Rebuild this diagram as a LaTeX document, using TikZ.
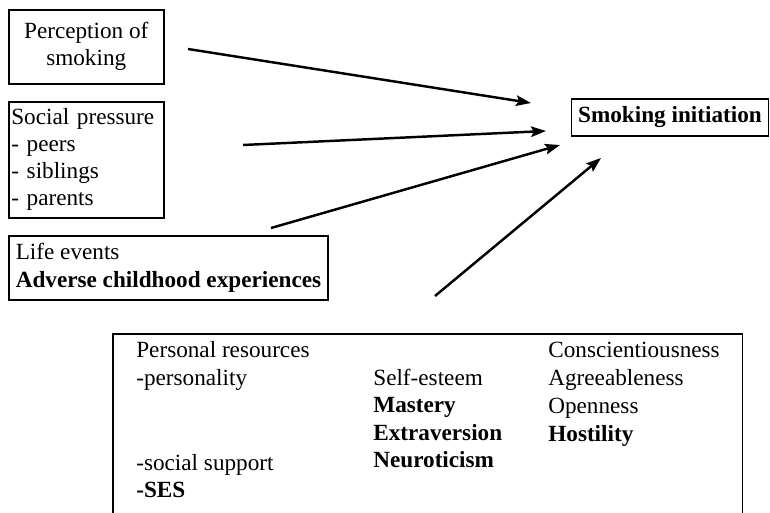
\documentclass[tikz,border=0pt]{standalone}
\usepackage{fontspec}
\setmainfont{Liberation Serif}
\usetikzlibrary{positioning,arrows.meta}

\begin{document}
\begin{tikzpicture}[x=0.02cm, y=-0.02cm,
    box/.style={draw, line width=0.9pt, inner sep=0pt, font=\fontsize{13.2}{15.4}\selectfont},
    item/.style={anchor=base west, inner sep=0pt, font=\fontsize{13.2}{15.4}\selectfont},
    link/.style={line width=1.4pt, -{Stealth[length=8.5pt, width=6pt, inset=1.5pt]}},
]
\useasboundingbox (0,0) rectangle (770,513);
\clip (0,0) rectangle (770,513);

% factors on the left
\node[box, anchor=north west, minimum width=3.1cm, minimum height=1.48cm, align=center] (perception) at (8,9) {Perception of\\smoking};
\node[box, anchor=north west, minimum width=3.1cm, minimum height=2.32cm, inner xsep=0.05cm, text width=3.0cm, align=left] (pressure) at (8,101) {Social pressure\\- peers\\- siblings\\- parents};
\node[box, anchor=north west, minimum height=1.28cm, inner xsep=0.14cm, align=left] (events) at (8,235) {Life events\\\textbf{Adverse childhood experiences}};

% outcome
\node[box, minimum width=3.94cm, minimum height=0.74cm] (smoking) at (670,117.5) {\textbf{Smoking initiation}};

% personal resources, bottom edge runs off the page
\node[box, anchor=north west, minimum width=12.6cm, minimum height=4cm] (resources) at (112,333) {};

\node[item] (res1) at (136,357) {Personal resources};
\node[item] (res2) at (136,385) {-personality};
\node[item] (res3) at (136,470) {-social support};
\node[item] (res4) at (136,497) {\textbf{-SES}};

\foreach \t [count=\i] in {Self-esteem, \textbf{Mastery}, \textbf{Extraversion}, \textbf{Neuroticism}}
    \node[item] (mid\i) at (373,{385+27.6*(\i-1)}) {\t};
\foreach \t [count=\i] in {Conscientiousness, Agreeableness, Openness, \textbf{Hostility}}
    \node[item] (big\i) at (548,{357+28*(\i-1)}) {\t};

% arrows
\coordinate (perception-out) at (188,49);
\coordinate (pressure-out) at (243,145);
\coordinate (events-out) at (271,228);
\coordinate (resources-out) at (435,296);
\coordinate (smoking-in1) at (531,103);
\coordinate (smoking-in2) at (546,131);
\coordinate (smoking-in3) at (560,145);
\coordinate (smoking-in4) at (601,158);

\draw[link] (perception-out) -- (smoking-in1);
\draw[link] (pressure-out) -- (smoking-in2);
\draw[link] (events-out) -- (smoking-in3);
\draw[link] (resources-out) -- (smoking-in4);
\end{tikzpicture}
\end{document}
